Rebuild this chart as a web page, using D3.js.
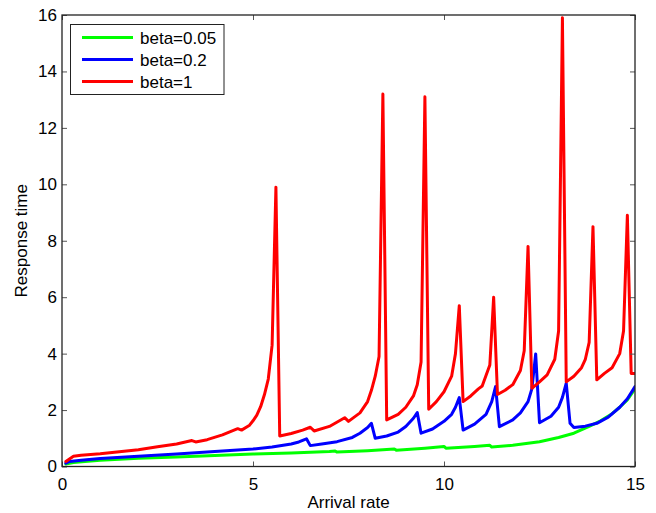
<!DOCTYPE html>
<html><head><meta charset="utf-8">
<script src="https://cdn.jsdelivr.net/npm/d3@7/dist/d3.min.js"></script>
<style>
html,body{margin:0;padding:0;background:#fff;}
svg{display:block;font-family:"Liberation Sans",Arial,Helvetica,sans-serif;}
</style></head>
<body>
<svg id="chart" width="656" height="513"></svg>
<script>
// ---- data ----
const seriesNames = ["beta=0.05", "beta=0.2", "beta=1"];
const seriesColors = ["#00ff00", "#0000ff", "#ff0000"];

const greenX = [0.1,0.3,0.6,1,2,3,4,5,6,7,7.15,7.2,8,8.7,8.75,9.5,10.0,10.05,10.8,11.2,11.25,11.8,12.5,13.0,13.4,13.8,14.1,14.4,14.6,14.8,15.0];
const greenY = [0.09,0.14,0.18,0.22,0.29,0.34,0.39,0.44,0.48,0.53,0.55,0.51,0.56,0.62,0.58,0.65,0.71,0.65,0.71,0.75,0.69,0.75,0.88,1.03,1.18,1.42,1.62,1.87,2.1,2.36,2.75];

const blueX = [0.1,0.2,0.5,1,2,3,4,5,5.5,6.0,6.2,6.4,6.5,6.8,7.2,7.6,7.8,8.0,8.1,8.2,8.5,8.8,9.0,9.2,9.3,9.4,9.7,10.0,10.2,10.3,10.4,10.5,10.8,11.1,11.25,11.35,11.45,11.8,12.0,12.2,12.3,12.4,12.5,12.8,13.0,13.1,13.2,13.3,13.4,13.7,14.0,14.3,14.6,14.8,15.0];
const blueY = [0.12,0.18,0.22,0.28,0.36,0.44,0.53,0.62,0.69,0.80,0.87,0.98,0.74,0.80,0.88,1.03,1.18,1.38,1.53,1.0,1.08,1.22,1.42,1.71,1.91,1.18,1.33,1.6,1.85,2.1,2.44,1.29,1.5,1.85,2.3,2.83,1.41,1.65,1.9,2.3,2.75,3.99,1.55,1.78,2.1,2.45,2.95,1.53,1.38,1.43,1.53,1.75,2.1,2.4,2.83];

const redX = [0.1,0.3,0.5,1,1.5,2,2.5,3,3.4,3.5,3.8,4.2,4.6,4.7,4.9,5.0,5.1,5.2,5.3,5.4,5.5,5.6,5.7,6.0,6.3,6.5,6.6,7.0,7.4,7.5,7.8,8.0,8.1,8.2,8.3,8.4,8.5,8.8,9.0,9.2,9.3,9.4,9.5,9.6,9.8,10.0,10.2,10.3,10.4,10.5,10.7,10.9,11.0,11.2,11.3,11.4,11.6,11.8,12.0,12.1,12.2,12.3,12.5,12.7,12.9,13.0,13.1,13.2,13.4,13.6,13.7,13.8,13.9,14.0,14.2,14.4,14.6,14.7,14.8,14.9,15.0];
const redY = [0.18,0.36,0.40,0.45,0.52,0.59,0.70,0.80,0.92,0.87,0.95,1.12,1.34,1.29,1.45,1.62,1.82,2.12,2.55,3.1,4.3,9.9,1.08,1.17,1.29,1.39,1.26,1.42,1.73,1.6,1.9,2.3,2.7,3.2,3.9,13.2,1.65,1.85,2.1,2.5,2.9,3.7,13.1,2.03,2.3,2.65,3.2,4.0,5.7,2.3,2.5,2.75,2.85,3.6,6.0,2.55,2.7,2.9,3.4,4.1,7.8,2.77,3.0,3.25,3.8,4.8,15.9,3.0,3.2,3.5,3.8,4.4,8.5,3.07,3.3,3.5,4.0,4.8,8.9,3.3,3.3];

const xTicks = [0, 5, 10, 15];
const yTicks = [0, 2, 4, 6, 8, 10, 12, 14, 16];
const xLabel = "Arrival rate";
const yLabel = "Response time";

// ---- layout ----
const L = 62, R = 635, T = 15, B = 466.5;
const svg = d3.select("#chart");
const x = d3.scaleLinear().domain([0, 15]).range([L, R]);
const y = d3.scaleLinear().domain([0, 16]).range([B, T]);

const series = [
  {name: seriesNames[0], color: seriesColors[0], xs: greenX, ys: greenY},
  {name: seriesNames[1], color: seriesColors[1], xs: blueX, ys: blueY},
  {name: seriesNames[2], color: seriesColors[2], xs: redX, ys: redY}
];

svg.append("clipPath").attr("id", "clip").append("rect")
  .attr("x", L).attr("y", T).attr("width", R - L).attr("height", B - T);

const line = d3.line().x(d => x(d[0])).y(d => y(d[1]));
const gLines = svg.append("g").attr("clip-path", "url(#clip)");
series.forEach(s => {
  gLines.append("path")
    .datum(s.xs.map((v, i) => [v, s.ys[i]]))
    .attr("d", line)
    .attr("fill", "none")
    .attr("stroke", s.color)
    .attr("stroke-width", 3)
    .attr("stroke-linejoin", "round")
    .attr("stroke-linecap", "round");
});

// axes (MATLAB style, ticks inward, box)
const tickLen = 5;
const fontSize = 17;
const xAxisB = d3.axisBottom(x).tickValues(xTicks).tickSizeInner(-tickLen).tickSizeOuter(0).tickPadding(11).tickFormat(d3.format("d"));
const xAxisT = d3.axisTop(x).tickValues(xTicks).tickSizeInner(-tickLen).tickSizeOuter(0).tickFormat("");
const yAxisL = d3.axisLeft(y).tickValues(yTicks).tickSizeInner(-tickLen).tickSizeOuter(0).tickPadding(5).tickFormat(d3.format("d"));
const yAxisR = d3.axisRight(y).tickValues(yTicks).tickSizeInner(-tickLen).tickSizeOuter(0).tickFormat("");

function style(g) {
  g.select(".domain").remove();
  g.selectAll(".tick line").attr("stroke", "#555").attr("stroke-width", 1);
  g.selectAll(".tick text").attr("font-size", fontSize).attr("fill", "#000")
    .attr("font-family", "'Liberation Sans',Arial,Helvetica,sans-serif");
}
svg.append("g").attr("transform", `translate(0,${B})`).call(xAxisB).call(style);
svg.append("g").attr("transform", `translate(0,${T})`).call(xAxisT).call(style);
svg.append("g").attr("transform", `translate(${L},0)`).call(yAxisL).call(style);
svg.append("g").attr("transform", `translate(${R},0)`).call(yAxisR).call(style);

svg.append("rect").attr("x", L).attr("y", T).attr("width", R - L).attr("height", B - T)
  .attr("fill", "none").attr("stroke", "#222").attr("stroke-width", 1.3);

// axis labels
svg.append("text").attr("x", (L + R) / 2).attr("y", 508).attr("text-anchor", "middle")
  .attr("font-size", fontSize).text(xLabel);
svg.append("text").attr("transform", `translate(27,${(T + B) / 2}) rotate(-90)`)
  .attr("text-anchor", "middle").attr("font-size", fontSize).text(yLabel);

// legend
const lg = svg.append("g");
lg.append("rect").attr("x", 70.5).attr("y", 24.5).attr("width", 153.5).attr("height", 70)
  .attr("fill", "#fff").attr("stroke", "#222").attr("stroke-width", 1);
series.forEach((s, i) => {
  const yy = 37.5 + i * 22;
  lg.append("line").attr("x1", 82).attr("x2", 133).attr("y1", yy).attr("y2", yy)
    .attr("stroke", s.color).attr("stroke-width", 3);
  lg.append("text").attr("x", 140).attr("y", yy + 6).attr("font-size", fontSize).text(s.name);
});
</script>
</body></html>
